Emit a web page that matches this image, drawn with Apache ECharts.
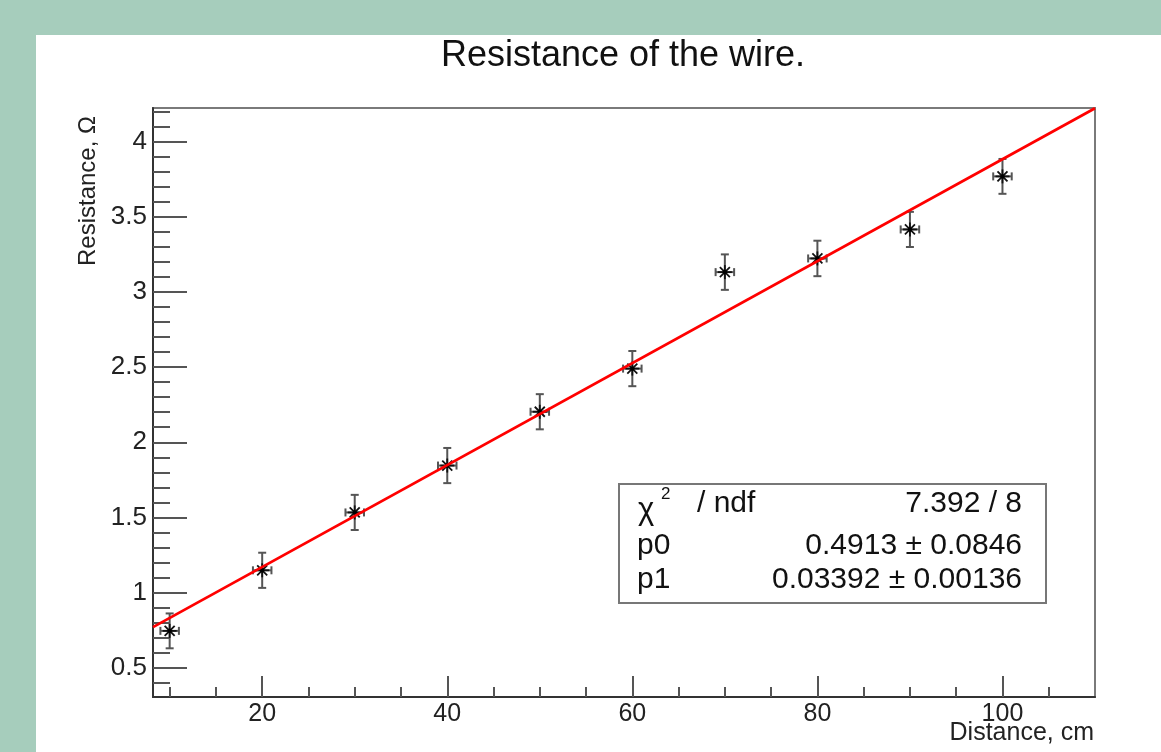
<!DOCTYPE html>
<html>
<head>
<meta charset="utf-8">
<script src="https://cdn.jsdelivr.net/npm/echarts@6/dist/echarts.min.js"></script>
<style>
html, body { margin: 0; padding: 0; background: #a6cdbc; }
#panel { position: absolute; left: 36px; top: 35px; right: 0; bottom: 0; background: #fff; }
#main { position: absolute; left: 0; top: 0; width: 1161px; height: 752px; }
</style>
</head>
<body>
<div id="panel"></div>
<div id="main"></div>
<script>
// measured points (distance in cm, resistance in ohm)
var distance = [10, 20, 30, 40, 50, 60, 70, 80, 90, 100];
var resistance = [0.745, 1.148, 1.533, 1.845, 2.203, 2.49, 3.132, 3.223, 3.416, 3.769];
var distErr = [1, 1, 1, 1, 1, 1, 1, 1, 1, 1];
var resErr = [0.116, 0.117, 0.117, 0.117, 0.117, 0.117, 0.118, 0.118, 0.117, 0.116];

// fitted line ends
var fitX = [8.2, 110];
var fitY = [0.77, 4.222];

var xMajorTicks = [20, 40, 60, 80, 100];
var xMinorTicks = [10, 15, 25, 30, 35, 45, 50, 55, 65, 70, 75, 85, 90, 95, 105];
var yMajorTicks = [0.5, 1, 1.5, 2, 2.5, 3, 3.5, 4];
var yMinorTicks = [0.4, 0.6, 0.7, 0.8, 0.9, 1.1, 1.2, 1.3, 1.4, 1.6, 1.7, 1.8, 1.9,
    2.1, 2.2, 2.3, 2.4, 2.6, 2.7, 2.8, 2.9, 3.1, 3.2, 3.3, 3.4, 3.6, 3.7, 3.8, 3.9, 4.1, 4.2];

var statNames = ['p0', 'p1'];
var statValues = ['7.392 / 8', '0.4913 \u00b1 0.0846', '0.03392 \u00b1 0.00136'];

var font = '"Liberation Sans", Arial, sans-serif';
var xMin = 8.2, xMax = 110, yMin = 0.305, yMax = 4.224;

var points = [];
for (var i = 0; i < distance.length; i++) {
    points.push([distance[i], resistance[i], distErr[i], resErr[i]]);
}
var fitLine = [];
for (var j = 0; j < fitX.length; j++) {
    fitLine.push([fitX[j], fitY[j]]);
}

function renderPoint(params, api) {
    var x = api.value(0), y = api.value(1), ex = api.value(2), ey = api.value(3);
    var c = api.coord([x, y]);
    var top = api.coord([x, y + ey]);
    var bot = api.coord([x, y - ey]);
    var lft = api.coord([x - ex, y]);
    var rgt = api.coord([x + ex, y]);
    var cap = 4, s = 7, d = 5;
    var bar = {stroke: '#555', lineWidth: 2};
    var star = {stroke: '#111', lineWidth: 1.8};
    function ln(x1, y1, x2, y2, st) {
        return {type: 'line', shape: {x1: x1, y1: y1, x2: x2, y2: y2}, style: st};
    }
    return {
        type: 'group',
        children: [
            ln(c[0], top[1], c[0], bot[1], bar),
            ln(c[0] - cap, top[1], c[0] + cap, top[1], bar),
            ln(c[0] - cap, bot[1], c[0] + cap, bot[1], bar),
            ln(lft[0], c[1], rgt[0], c[1], bar),
            ln(lft[0], c[1] - cap, lft[0], c[1] + cap, bar),
            ln(rgt[0], c[1] - cap, rgt[0], c[1] + cap, bar),
            ln(c[0] - s, c[1], c[0] + s, c[1], star),
            ln(c[0], c[1] - s, c[0], c[1] + s, star),
            ln(c[0] - d, c[1] - d, c[0] + d, c[1] + d, star),
            ln(c[0] - d, c[1] + d, c[0] + d, c[1] - d, star),
            {type: 'circle', shape: {cx: c[0], cy: c[1], r: 2.2}, style: {fill: '#000'}}
        ]
    };
}

var chart = echarts.init(document.getElementById('main'));
var option = {
    animation: false,
    textStyle: {fontFamily: font},
    grid: {
        left: 153,
        right: 66,
        top: 108,
        bottom: 55,
        show: true,
        backgroundColor: 'transparent',
        borderColor: '#7a7a7a',
        borderWidth: 2
    },
    xAxis: [
        {
            type: 'value',
            min: xMin,
            max: xMax,
            splitLine: {show: false},
            axisLine: {show: true, lineStyle: {color: '#333', width: 2}},
            axisTick: {inside: true, length: 21, customValues: xMajorTicks, lineStyle: {color: '#555', width: 2}},
            axisLabel: {customValues: xMajorTicks, margin: 5, fontSize: 25, color: '#222', fontFamily: font}
        },
        {
            type: 'value',
            min: xMin,
            max: xMax,
            position: 'bottom',
            splitLine: {show: false},
            axisLine: {show: false},
            axisTick: {inside: true, length: 10, customValues: xMinorTicks, lineStyle: {color: '#555', width: 2}},
            axisLabel: {show: false}
        }
    ],
    yAxis: [
        {
            type: 'value',
            min: yMin,
            max: yMax,
            splitLine: {show: false},
            axisLine: {show: true, lineStyle: {color: '#333', width: 2}},
            axisTick: {inside: true, length: 34, customValues: yMajorTicks, lineStyle: {color: '#555', width: 2}},
            axisLabel: {customValues: yMajorTicks, margin: 6, fontSize: 26, color: '#222', fontFamily: font}
        },
        {
            type: 'value',
            min: yMin,
            max: yMax,
            position: 'left',
            splitLine: {show: false},
            axisLine: {show: false},
            axisTick: {inside: true, length: 17, customValues: yMinorTicks, lineStyle: {color: '#555', width: 2}},
            axisLabel: {show: false}
        }
    ],
    series: [
        {
            type: 'custom',
            name: 'data',
            renderItem: renderPoint,
            encode: {x: 0, y: 1},
            data: points,
            z: 3
        },
        {
            type: 'line',
            name: 'fit',
            data: fitLine,
            showSymbol: false,
            symbol: 'none',
            lineStyle: {color: '#ff0000', width: 2.8},
            clip: true,
            z: 4
        }
    ],
    graphic: [
        {
            type: 'text', x: 623, y: 56,
            style: {text: 'Resistance of the wire.', fontSize: 36, fontFamily: font, fill: '#111', align: 'center', verticalAlign: 'middle'}
        },
        {
            type: 'text', x: 88, y: 191, rotation: Math.PI / 2,
            style: {text: 'Resistance, \u03a9', fontSize: 24, fontFamily: font, fill: '#222', align: 'center', verticalAlign: 'middle'}
        },
        {
            type: 'text', x: 1094, y: 733,
            style: {text: 'Distance, cm', fontSize: 25, fontFamily: font, fill: '#222', align: 'right', verticalAlign: 'middle'}
        },
        // stats box
        {
            type: 'rect', z: 10,
            shape: {x: 619, y: 484, width: 427, height: 119},
            style: {fill: '#fff', stroke: '#777', lineWidth: 2}
        },
        {
            type: 'text', z: 11, x: 638, y: 510,
            style: {text: '\u03c7', fontSize: 31, fontFamily: font, fill: '#111', align: 'left', verticalAlign: 'middle'}
        },
        {
            type: 'text', z: 11, x: 661, y: 494,
            style: {text: '2', fontSize: 17, fontFamily: font, fill: '#111', align: 'left', verticalAlign: 'middle'}
        },
        {
            type: 'text', z: 11, x: 697, y: 504,
            style: {text: '/ ndf', fontSize: 30, fontFamily: font, fill: '#111', align: 'left', verticalAlign: 'middle'}
        },
        {
            type: 'text', z: 11, x: 637, y: 546,
            style: {text: statNames[0], fontSize: 30, fontFamily: font, fill: '#111', align: 'left', verticalAlign: 'middle'}
        },
        {
            type: 'text', z: 11, x: 637, y: 580,
            style: {text: statNames[1], fontSize: 30, fontFamily: font, fill: '#111', align: 'left', verticalAlign: 'middle'}
        },
        {
            type: 'text', z: 11, x: 1022, y: 504,
            style: {text: statValues[0], fontSize: 30, fontFamily: font, fill: '#111', align: 'right', verticalAlign: 'middle'}
        },
        {
            type: 'text', z: 11, x: 1022, y: 546,
            style: {text: statValues[1], fontSize: 30, fontFamily: font, fill: '#111', align: 'right', verticalAlign: 'middle'}
        },
        {
            type: 'text', z: 11, x: 1022, y: 580,
            style: {text: statValues[2], fontSize: 30, fontFamily: font, fill: '#111', align: 'right', verticalAlign: 'middle'}
        }
    ]
};
chart.setOption(option);
</script>
</body>
</html>
